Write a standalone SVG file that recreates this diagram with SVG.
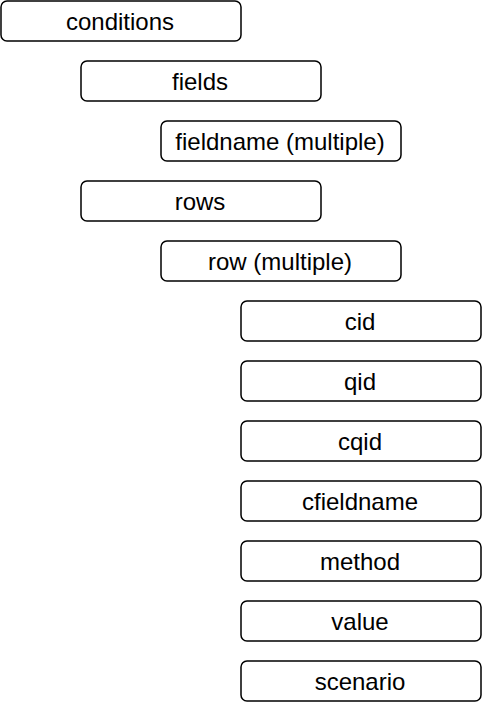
<svg xmlns="http://www.w3.org/2000/svg" width="482" height="702" viewBox="0 0 482 702">
<style>
.b{fill:#fff;stroke:#000;stroke-width:1.5}
.t{font-family:"Liberation Sans",Arial,sans-serif;font-size:24px;fill:#000;text-anchor:middle;dominant-baseline:central}
</style>
<rect width="482" height="702" fill="#fff"/>
<g id="connectors"/>
<g id="conditions"><rect class="b" x="1" y="1" width="240" height="40" rx="6"/><text class="t" x="120" y="21.5">conditions</text></g>
<g id="fields"><rect class="b" x="81" y="61" width="240" height="40" rx="6"/><text class="t" x="200" y="81.5">fields</text></g>
<g id="fieldname"><rect class="b" x="161" y="121" width="240" height="40" rx="6"/><text class="t" x="280" y="141.5">fieldname (multiple)</text></g>
<g id="rows"><rect class="b" x="81" y="181" width="240" height="40" rx="6"/><text class="t" x="200" y="201.5">rows</text></g>
<g id="row"><rect class="b" x="161" y="241" width="240" height="40" rx="6"/><text class="t" x="280" y="261.5">row (multiple)</text></g>
<g id="cid"><rect class="b" x="241" y="301" width="240" height="40" rx="6"/><text class="t" x="360" y="321.5">cid</text></g>
<g id="qid"><rect class="b" x="241" y="361" width="240" height="40" rx="6"/><text class="t" x="360" y="381.5">qid</text></g>
<g id="cqid"><rect class="b" x="241" y="421" width="240" height="40" rx="6"/><text class="t" x="360" y="441.5">cqid</text></g>
<g id="cfieldname"><rect class="b" x="241" y="481" width="240" height="40" rx="6"/><text class="t" x="360" y="501.5">cfieldname</text></g>
<g id="method"><rect class="b" x="241" y="541" width="240" height="40" rx="6"/><text class="t" x="360" y="561.5">method</text></g>
<g id="value"><rect class="b" x="241" y="601" width="240" height="40" rx="6"/><text class="t" x="360" y="621.5">value</text></g>
<g id="scenario"><rect class="b" x="241" y="661" width="240" height="40" rx="6"/><text class="t" x="360" y="681.5">scenario</text></g>
</svg>
